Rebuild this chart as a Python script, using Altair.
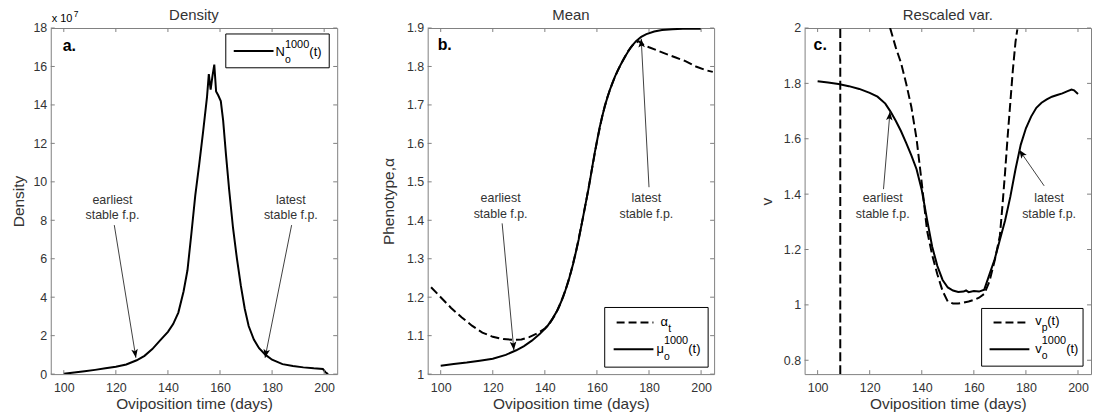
import math
import altair as alt
import pandas as pd

# ---------------- data ----------------
x_ticks = [100, 120, 140, 160, 180, 200]

# Panel a: density N_o^1000(t), in units of 1e7
dens_t = [100, 104, 108, 112, 116, 120, 124, 128, 131, 134, 137, 140, 142, 144, 146,
          147.5, 149, 150.5, 152, 153.5, 155, 155.7, 156.4, 157.1, 157.8, 158.5, 159.3,
          160.3, 161.2, 162.3, 163.5, 165, 166.5, 168, 169.5, 171, 173, 175, 177.5, 180,
          184, 188, 192, 196, 199.5, 200.5, 201.5]
dens_v = [0.02, 0.08, 0.15, 0.22, 0.3, 0.38, 0.5, 0.72, 0.95, 1.3, 1.75, 2.2, 2.6, 3.2, 4.3,
          5.4, 7.3, 9.3, 10.9, 12.6, 14.4, 15.6, 14.8, 15.5, 16.1, 14.7, 14.5,
          14.2, 13.2, 11.4, 9.6, 7.6, 6.0, 4.6, 3.4, 2.5, 1.8, 1.35, 1.0, 0.75,
          0.52, 0.42, 0.35, 0.3, 0.27, 0.1, 0.0]
a_yticks = [0, 2, 4, 6, 8, 10, 12, 14, 16, 18]

# Panel b: mean phenotype
mu_t = [100, 105, 110, 115, 120, 125, 129, 132, 135, 138, 141, 143, 145, 147, 149, 151, 153,
        155, 157, 159, 161, 163, 165, 167, 169, 171, 173, 175, 177, 179, 182, 185, 189, 193,
        197, 200]
mu_v = [1.022, 1.026, 1.030, 1.035, 1.040, 1.050, 1.062, 1.073, 1.087, 1.104, 1.125, 1.145,
        1.168, 1.200, 1.240, 1.290, 1.350, 1.420, 1.490, 1.570, 1.640, 1.697, 1.740, 1.775,
        1.803, 1.828, 1.850, 1.866, 1.877, 1.884, 1.891, 1.895, 1.897, 1.898, 1.898, 1.898]
alph_t = [96.3, 100, 104, 108, 112, 116, 120, 124, 128, 131, 134, 137, 140, 142, 144, 146, 148,
          150, 152, 154, 156, 158, 160, 162, 164, 166, 168, 170, 172, 174, 176, 178, 180, 183,
          186, 190, 194, 198, 202, 204.5]
alph_v = [1.226, 1.200, 1.172, 1.148, 1.126, 1.108, 1.097, 1.091, 1.089, 1.090, 1.096, 1.106,
          1.118, 1.133, 1.155, 1.184, 1.220, 1.265, 1.320, 1.385, 1.455, 1.530, 1.605, 1.670,
          1.720, 1.758, 1.790, 1.816, 1.840, 1.858, 1.866, 1.856, 1.850, 1.842, 1.834, 1.824,
          1.814, 1.800, 1.790, 1.786]
b_yticks = [1.0, 1.1, 1.2, 1.3, 1.4, 1.5, 1.6, 1.7, 1.8, 1.9]

# Panel c: rescaled variance
vo_t = [100, 104, 108, 112, 116, 120, 123, 126, 128, 130, 132, 134, 136, 138, 140, 142, 144,
        146, 148, 150, 152, 154, 156, 157, 158, 160, 162, 164, 166, 168, 170, 172, 174, 176,
        178, 180, 182, 184, 186, 188, 190, 192, 194, 196, 197.5, 198.5, 200]
vo_v = [1.808, 1.803, 1.798, 1.790, 1.780, 1.766, 1.752, 1.727, 1.698, 1.665, 1.628, 1.585,
        1.540, 1.490, 1.415, 1.310, 1.210, 1.140, 1.090, 1.063, 1.052, 1.047, 1.048, 1.052,
        1.046, 1.050, 1.048, 1.055, 1.110, 1.165, 1.235, 1.305, 1.390, 1.490, 1.578, 1.638,
        1.680, 1.712, 1.730, 1.742, 1.752, 1.758, 1.764, 1.772, 1.778, 1.775, 1.762]
vp1_t = [108.7, 108.7]
vp1_v = [0.75, 2.0]
vp2_t = [127.8, 128, 130, 132, 134, 136, 138, 140, 142, 144, 146, 148, 150, 152, 154, 156,
         158, 160, 162, 164, 166, 168, 170, 171, 172, 173, 174, 175, 176, 176.7]
vp2_v = [2.0, 1.995, 1.93, 1.875, 1.80, 1.715, 1.60, 1.44, 1.27, 1.18, 1.11, 1.05, 1.012,
         1.005, 1.005, 1.008, 1.012, 1.018, 1.026, 1.040, 1.085, 1.16, 1.25, 1.36, 1.48, 1.61,
         1.73, 1.85, 1.95, 1.995]
c_yticks = [0.8, 1.0, 1.2, 1.4, 1.6, 1.8, 2.0]

# annotations (text lines and arrows: start -> tip), data coordinates
a_notes = [("earliest", 118.7, 9.08), ("stable f.p.", 118.7, 8.25),
           ("latest", 187.2, 9.08), ("stable f.p.", 187.2, 8.25)]
a_arrows = [(119.4, 7.75, 127.7, 0.85), (187.5, 7.75, 177.3, 0.85)]
b_notes = [("earliest", 123.0, 1.458), ("stable f.p.", 123.0, 1.415),
           ("latest", 179.0, 1.458), ("stable f.p.", 179.0, 1.415)]
b_arrows = [(123.6, 1.392, 128.1, 1.062), (180.0, 1.486, 177.0, 1.872)]
c_notes = [("earliest", 125.0, 1.387), ("stable f.p.", 125.0, 1.327),
           ("latest", 188.9, 1.387), ("stable f.p.", 188.9, 1.327)]
c_arrows = [(125.3, 1.418, 127.8, 1.698), (187.0, 1.43, 177.4, 1.56)]

# ---------------- styling ----------------
FONT = "Liberation Sans"
W, H = 288, 348
XDOM = [95, 205]
FRAME = "#808080"
TXT = "#333333"
DASH = [9, 4]
ONE = pd.DataFrame({"k": [0]})


def xaxis():
    return alt.Axis(title="Oviposition time (days)", values=x_ticks, grid=False, ticks=False,
                    domain=False, tickSize=0, labelPadding=7, labelFontSize=12.5,
                    labelColor=TXT, labelFlush=False, titleFontSize=15.5,
                    titleFontWeight="normal", titleColor=TXT, titlePadding=3)


def yaxis(title, vals, fmt, tx):
    return alt.Axis(title=title, values=vals, format=fmt, grid=False, ticks=False,
                    domain=False, tickSize=0, labelPadding=4, labelFontSize=12.5,
                    labelColor=TXT, labelFlush=False, titleFontSize=15.5,
                    titleFontWeight="normal", titleColor=TXT, titleX=tx,
                    titleAngle=270, titleBaseline="middle", titleAlign="center")


def txt(text, x, y, fs, weight="normal", color="black", align="left"):
    return alt.Chart(ONE).mark_text(text=text, fontSize=fs, fontWeight=weight, color=color,
                                    align=align, baseline="alphabetic").encode(
        x=alt.value(x), y=alt.value(y))


def panel(title, ytitle, ydom, yticks, yfmt, tx, curves, notes, arrows, legend, label,
          extra=None):
    xs = alt.Scale(domain=XDOM, nice=False, zero=False)
    ys = alt.Scale(domain=ydom, nice=False, zero=False)
    XA = xaxis()
    YA = yaxis(ytitle, yticks, yfmt, tx)
    px_t = W / (XDOM[1] - XDOM[0])
    px_v = H / (ydom[1] - ydom[0])

    def X(f):
        return alt.X(f"{f}:Q", scale=xs, axis=XA)

    def Y(f):
        return alt.Y(f"{f}:Q", scale=ys, axis=YA)

    layers = []
    for (tt, vv, dashed) in curves:
        df = pd.DataFrame({"t": tt, "v": vv, "i": list(range(len(tt)))})
        kw = dict(color="black", strokeWidth=2, clip=True, strokeCap="butt")
        if dashed:
            kw["strokeDash"] = DASH
        layers.append(alt.Chart(df).mark_line(**kw).encode(
            x=X("t"), y=Y("v"), order=alt.Order("i:Q")))

    # inward ticks on all four sides
    xt = pd.DataFrame({"t": x_ticks})
    yt = pd.DataFrame({"v": yticks})
    layers.append(alt.Chart(xt).mark_rule(color=FRAME, strokeWidth=1).encode(
        x=X("t"), y=alt.value(H), y2=alt.value(H - 4)))
    layers.append(alt.Chart(xt).mark_rule(color=FRAME, strokeWidth=1).encode(
        x=X("t"), y=alt.value(0), y2=alt.value(4)))
    layers.append(alt.Chart(yt).mark_rule(color=FRAME, strokeWidth=1).encode(
        y=Y("v"), x=alt.value(0), x2=alt.value(4)))
    layers.append(alt.Chart(yt).mark_rule(color=FRAME, strokeWidth=1).encode(
        y=Y("v"), x=alt.value(W), x2=alt.value(W - 4)))

    # arrows
    rows, heads = [], []
    for i, (t0, v0, t1, v1) in enumerate(arrows):
        rows.append({"id": i, "t": t0, "v": v0})
        rows.append({"id": i, "t": t1, "v": v1})
        ang = math.degrees(math.atan2((t1 - t0) * px_t, (v1 - v0) * px_v)) % 360
        heads.append({"t": t1, "v": v1, "ang": ang})
    layers.append(alt.Chart(pd.DataFrame(rows)).mark_line(color="#404040", strokeWidth=1).encode(
        x=X("t"), y=Y("v"), detail="id:N"))
    layers.append(alt.Chart(pd.DataFrame(heads)).mark_point(
        shape="M0,0 L-0.38,1 L0,0.78 L0.38,1 Z", filled=True, color="black", size=300,
        opacity=1, strokeWidth=0).encode(
        x=X("t"), y=Y("v"), angle=alt.Angle("ang:Q", scale=None)))

    # notes
    nd = pd.DataFrame(notes, columns=["label", "t", "v"])
    layers.append(alt.Chart(nd).mark_text(fontSize=12.5, color=TXT, align="center",
                                         baseline="middle").encode(
        x=X("t"), y=Y("v"), text="label:N"))

    # legend box
    bx0, bx1, by0, by1 = legend["box"]
    layers.append(alt.Chart(ONE).mark_rect(fill="white", stroke="black", strokeWidth=1).encode(
        x=alt.value(bx0), x2=alt.value(bx1), y=alt.value(by0), y2=alt.value(by1)))
    for (lx0, lx1, ly, dashed) in legend["lines"]:
        kw = dict(color="black", strokeWidth=2, strokeCap="butt")
        if dashed:
            kw["strokeDash"] = [8, 4]
        layers.append(alt.Chart(ONE).mark_rule(**kw).encode(
            x=alt.value(lx0), x2=alt.value(lx1), y=alt.value(ly)))
    for (t_, x_, y_, fs) in legend["texts"] + (extra or []):
        layers.append(txt(t_, x_, y_, fs))

    # panel label and title
    layers.append(txt(label[0], label[1], label[2], 16, weight="bold"))
    layers.append(txt(title, W / 2, -8, 15, color=TXT, align="center"))

    return alt.layer(*layers).properties(width=W, height=H)


pa = panel("Density", "Density", [0, 18], a_yticks, "d", -32,
           [(dens_t, dens_v, False)], a_notes, a_arrows,
           {"box": (176, 280, 6, 40),
            "lines": [(184, 224, 23, False)],
            "texts": [("N", 226, 28, 13), ("o", 235.5, 35.5, 10.5),
                      ("1000", 235.5, 20.5, 11), ("(t)", 260, 28, 13)]},
           ("a.", 12, 23),
           extra=[("x 10", 1, -6, 11), ("7", 23, -11, 8.5)])

pb = panel("Mean", "Phenotype,α", [1.0, 1.9], b_yticks, "~g", -39,
           [(alph_t, alph_v, True), (mu_t, mu_v, False)], b_notes, b_arrows,
           {"box": (178, 282, 281, 341),
            "lines": [(190, 227, 296, True), (187, 227, 323, False)],
            "texts": [("α", 234, 300, 13), ("t", 242, 306, 10.5),
                      ("μ", 230, 327, 13), ("o", 237.5, 334, 10.5),
                      ("1000", 237.5, 318, 11), ("(t)", 262, 327, 13)]},
           ("b.", 10, 22))

pc = panel("Rescaled var.", "v", [0.75, 2.0], c_yticks, "~g", -38.5,
           [(vp1_t, vp1_v, True), (vp2_t, vp2_v, True), (vo_t, vo_v, False)],
           c_notes, c_arrows,
           {"box": (178, 280, 282, 340),
            "lines": [(190, 226, 296, True), (186, 226, 323, False)],
            "texts": [("v", 232, 299, 13), ("p", 238.5, 305, 10.5), ("(t)", 244, 299, 13),
                      ("v", 232, 327, 13), ("o", 238.5, 333, 10.5),
                      ("1000", 238.5, 318, 11), ("(t)", 263, 327, 13)]},
           ("c.", 9, 22))

chart = alt.hconcat(pa, pb, pc, spacing=91, bounds="flush").properties(
    padding={"left": 3, "top": -2, "right": 2, "bottom": 2}
).configure(font=FONT).configure_view(stroke=FRAME, strokeWidth=1)

chart.save("out.html", embed_options={"renderer": "svg", "actions": False})
